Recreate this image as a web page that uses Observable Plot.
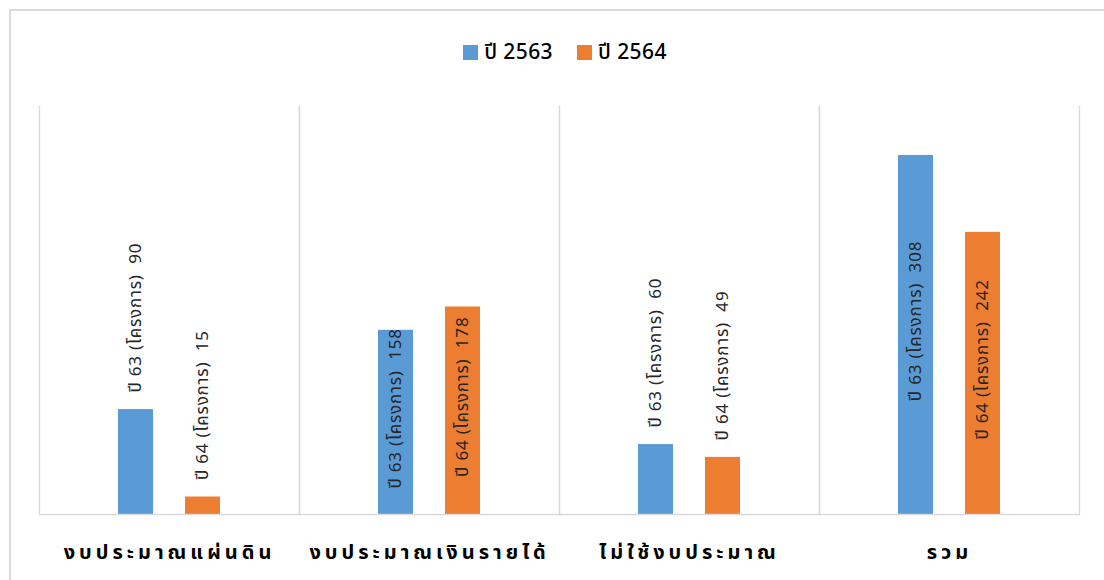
<!DOCTYPE html>
<html>
<head>
<meta charset="utf-8">
<script src="https://cdn.jsdelivr.net/npm/d3@7"></script>
<script src="https://cdn.jsdelivr.net/npm/@observablehq/plot@0.6"></script>
<style>
  html, body { margin: 0; padding: 0; background: #fff; }
  body { width: 1104px; height: 580px; position: relative; overflow: hidden;
         font-family: "Noto Sans Thai", "Noto Sans", "DejaVu Sans", sans-serif; }
  #border { position: absolute; left: 9px; top: 9px; width: 2000px; height: 2000px;
            border-left: 2px solid #d9d9d9; border-top: 2px solid #d9d9d9; box-sizing: border-box; }
  #chart { position: absolute; left: 0; top: 0; }
  #legend { position: absolute; left: 13px; top: 38px; width: 1104px; height: 28px;
            display: flex; justify-content: center; align-items: center; gap: 24px;
            font-size: 21px; font-weight: 500; color: #000; letter-spacing: 0.4px; }
  #legend .item { display: flex; align-items: center; gap: 6px; }
  #legend .sw { width: 15px; height: 15px; display: inline-block; }
  #chart svg text { white-space: pre; }
  #chart g[aria-label="fx-axis tick label"] text { letter-spacing: 4px; }
  #chart g[aria-label="text"] text { letter-spacing: 0.8px; }
</style>
</head>
<body>
<div id="border"></div>
<div id="chart"></div>
<div id="legend"></div>
<script>
const categories = ["งบประมาณแผ่นดิน", "งบประมาณเงินรายได้", "ไม่ใช้งบประมาณ", "รวม"];
const years = ["ปี 2563", "ปี 2564"];
const shortYears = ["ปี 63", "ปี 64"];
const values2563 = [90, 158, 60, 308];
const values2564 = [15, 178, 49, 242];
const colors = ["#5b9bd5", "#ed7d31"];
const insideMin = 100;
const unitLabel = "(โครงการ)";

const data = categories.flatMap((c, i) => [
  {category: c, year: years[0], short: shortYears[0], value: values2563[i]},
  {category: c, year: years[1], short: shortYears[1], value: values2564[i]}
]);
const labelOf = d => `${d.short} ${unitLabel}  ${d.value}`;

const fontFamily = '"Noto Sans Thai", "Noto Sans", "DejaVu Sans", sans-serif';

const chart = Plot.plot({
  width: 1104,
  height: 580,
  marginTop: 106,
  marginBottom: 66,
  marginLeft: 38,
  marginRight: 24,
  style: {fontFamily, background: "transparent", overflow: "visible"},
  fx: {domain: categories, padding: 0, label: null, axis: null},
  x: {domain: years, axis: null, insetLeft: 62.25, insetRight: 62.25, paddingInner: 0.485, paddingOuter: 0.2425},
  y: {domain: [0, 350], axis: null},
  color: {domain: years, range: colors},
  marks: [
    Plot.frame({anchor: "left", stroke: "#d9d9d9", strokeWidth: 1.3}),
    Plot.frame({anchor: "right", stroke: "#d9d9d9", strokeWidth: 1.3}),
    Plot.barY(data, {fx: "category", x: "year", y: "value", fill: "year"}),
    Plot.ruleY([0], {stroke: "#d9d9d9", strokeWidth: 1.3}),
    Plot.text(data.filter(d => d.value < insideMin), {
      fx: "category", x: "year", y: "value", text: labelOf,
      rotate: -90, textAnchor: "start", dy: -17, fontSize: 17, fill: "#262626"
    }),
    Plot.text(data.filter(d => d.value >= insideMin), {
      fx: "category", x: "year", y: d => d.value / 2, text: labelOf,
      rotate: -90, textAnchor: "middle", dy: -14, fontSize: 17, fill: "#262626"
    }),
    Plot.axisFx({anchor: "bottom", tickSize: 0, tickPadding: 30, fontSize: 20, fontWeight: "bold", label: null, fill: "#000"})
  ]
});
document.getElementById("chart").appendChild(chart);

const legendDiv = d3.select("#legend");
years.forEach((y, i) => {
  const item = legendDiv.append("div").attr("class", "item");
  item.append("span").attr("class", "sw").style("background", colors[i]);
  item.append("span").text(y);
});
</script>
</body>
</html>
